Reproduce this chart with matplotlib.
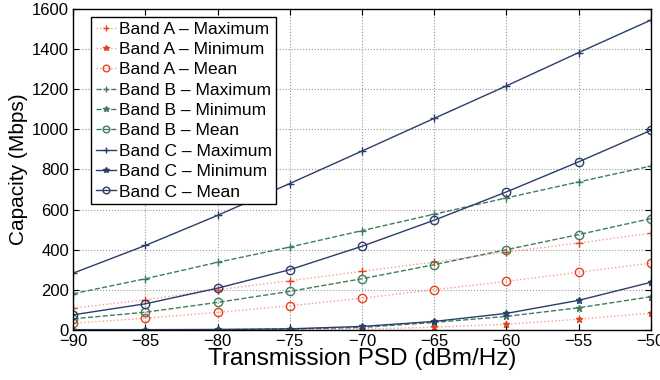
import numpy as np
import matplotlib
matplotlib.use("Agg")
import matplotlib.pyplot as plt

plt.rcParams['font.family'] = ['Liberation Sans', 'DejaVu Sans']

psd = [-90, -85, -80, -75, -70, -65, -60, -55, -50]

band_a_max = [108, 150, 200, 245, 292, 338, 388, 433, 482]
band_a_min = [0, 0, 0, 1, 4, 13, 28, 53, 83]
band_a_mean = [33, 58, 87, 120, 158, 200, 242, 287, 333]

band_b_max = [180, 255, 337, 413, 495, 577, 658, 738, 817]
band_b_min = [0, 0, 1, 4, 12, 37, 67, 110, 165]
band_b_mean = [55, 88, 137, 192, 255, 325, 400, 475, 555]

band_c_max = [283, 421, 571, 730, 892, 1055, 1217, 1383, 1545]
band_c_min = [1, 1, 2, 5, 17, 42, 82, 147, 237]
band_c_mean = [75, 130, 208, 300, 417, 547, 688, 838, 995]

red = '#e8401c'
red_line = '#f4a08c'
green = '#3f7d5c'
navy = '#2b3d6b'

fig, ax = plt.subplots(figsize=(6.6, 3.8), dpi=100)
fig.subplots_adjust(left=0.111, right=0.986, bottom=0.132, top=0.976)

# band A: dotted, band B: dashed, band C: solid
series = [
    (band_a_max, red, red_line, ':', '+', 'Band A – Maximum'),
    (band_a_min, red, red_line, ':', '*', 'Band A – Minimum'),
    (band_a_mean, red, red_line, ':', 'o', 'Band A – Mean'),
    (band_b_max, green, green, '--', '+', 'Band B – Maximum'),
    (band_b_min, green, green, '--', '*', 'Band B – Minimum'),
    (band_b_mean, green, green, '--', 'o', 'Band B – Mean'),
    (band_c_max, navy, navy, '-', '+', 'Band C – Maximum'),
    (band_c_min, navy, navy, '-', '*', 'Band C – Minimum'),
    (band_c_mean, navy, navy, '-', 'o', 'Band C – Mean'),
]
for vals, mc, lc, ls, mk, label in series:
    ax.plot(psd, vals, linestyle=ls, color=lc, linewidth=1.0,
            marker=mk, markersize=6 if mk != '*' else 5,
            markerfacecolor='none' if mk == 'o' else mc,
            markeredgecolor=mc, markeredgewidth=1.0, label=label)

ax.set_xlim(-90, -50)
ax.set_ylim(0, 1600)
ax.set_xticks(np.arange(-90, -49, 5))
ax.set_yticks(np.arange(0, 1601, 200))
ax.set_xticklabels([f'\u2212{abs(v)}' for v in range(-90, -49, 5)])
ax.tick_params(direction='in', labelsize=12, length=4, width=0.8, top=True, right=True, pad=3)
ax.grid(True, linestyle=':', color='#999999', linewidth=0.8)
for s in ax.spines.values():
    s.set_linewidth(1.0)

ax.set_xlabel('Transmission PSD (dBm/Hz)', fontsize=17.5, labelpad=-1)
ax.set_ylabel('Capacity (Mbps)', fontsize=15, labelpad=3)

leg = ax.legend(loc='upper left', bbox_to_anchor=(0.031, 0.975), fontsize=12.5,
                frameon=True, fancybox=False, edgecolor='black', framealpha=1,
                handlelength=1.2, handletextpad=0.15, borderpad=0.25,
                labelspacing=0.3, borderaxespad=0, markerscale=0.8)
leg.get_frame().set_linewidth(1.0)

fig.savefig('out.png', dpi=100)
